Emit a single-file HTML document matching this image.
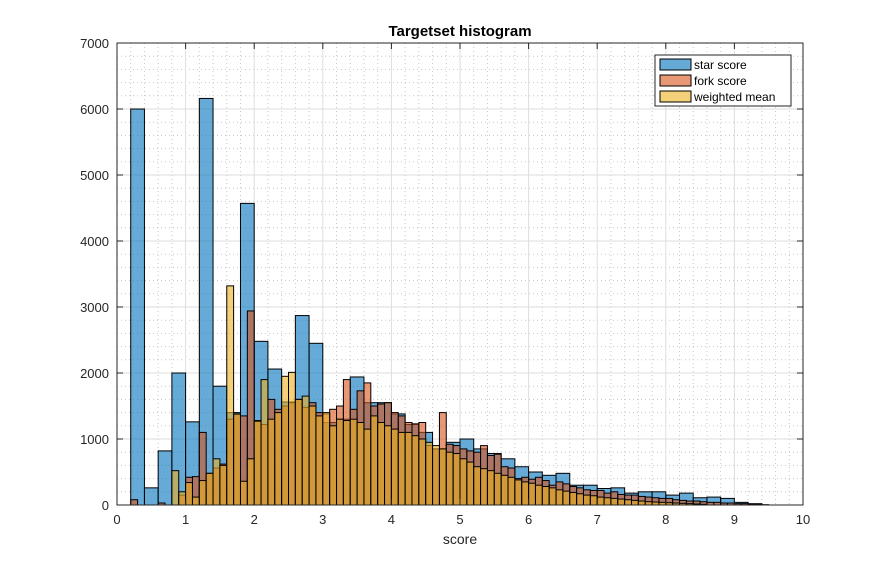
<!DOCTYPE html>
<html><head><meta charset="utf-8"><style>
body{margin:0;background:#fff;}
svg text{font-family:"Liberation Sans",sans-serif;}
</style></head><body>
<svg id="c" width="890" height="569"></svg>
<script>
const starEdgeStart=0.2, starWidth=0.2;
const starCounts=[6000,260,820,2000,1260,6160,1800,1400,4570,2480,2060,1560,2870,2450,1250,1300,1940,1550,1550,1380,1220,1100,850,950,1000,850,780,700,580,500,450,480,300,300,250,260,180,200,200,150,180,110,120,100,40,20];
const forkWidth=0.1;
const forkCounts=[0,0,80,0,0,0,30,0,0,150,420,430,1100,480,560,620,1300,1370,1350,2940,1280,1220,1600,1450,1500,1550,1600,1480,1550,1400,1380,1450,1500,1900,1450,1730,1850,1500,1530,1550,1400,1350,1250,1230,1250,900,850,1400,920,900,850,820,800,900,750,770,580,560,400,420,390,420,370,300,350,320,280,260,230,220,220,180,200,160,150,150,130,120,110,100,100,80,70,60,60,50,40,40,30,30,20,20,15,10,5];
const meanWidth=0.1;
const meanCounts=[0,0,0,0,0,0,0,0,520,200,340,120,370,480,700,600,3320,1380,360,700,1270,1900,1300,1400,1950,2010,1600,1650,1500,1350,1400,1200,1300,1280,1300,1250,1150,1350,1250,1200,1150,1100,1100,1050,1000,950,900,850,800,780,700,650,580,550,520,480,450,420,380,350,330,300,280,260,230,210,190,170,150,140,120,110,100,90,80,70,60,50,45,40,35,30,25,20,15,10];
const xTicks=[0,1,2,3,4,5,6,7,8,9,10];
const yTicks=[0,1000,2000,3000,4000,5000,6000,7000];
const legendLabels=["star score","fork score","weighted mean"];

const NS="http://www.w3.org/2000/svg";
const svg=document.getElementById('c');
const L=117,R=803,T=43,B=505;
const xs=v=>L+(v/10)*(R-L);
const ys=v=>B-(v/7000)*(B-T);
function el(t,a,p){const e=document.createElementNS(NS,t);for(const k in a)e.setAttribute(k,a[k]);(p||svg).appendChild(e);return e;}

const bg=el('rect',{x:L,y:T,width:R-L,height:B-T,fill:'#fff'});


// minor grid
const grid=el('g',{});


for(let v=0;v<=10.001;v+=0.2){if(Math.abs(v-Math.round(v))<1e-6)continue;el('line',{x1:xs(v),x2:xs(v),y1:T,y2:B,stroke:'#c8c8c8','stroke-dasharray':'1,3','stroke-width':1},grid);}
for(let v=200;v<7000;v+=200){if(v%1000===0)continue;el('line',{x1:L,x2:R,y1:ys(v),y2:ys(v),stroke:'#c8c8c8','stroke-dasharray':'1,3','stroke-width':1},grid);}
xTicks.forEach(v=>el('line',{x1:xs(v),x2:xs(v),y1:T,y2:B,stroke:'#dedede'},grid));
yTicks.forEach(v=>el('line',{x1:L,x2:R,y1:ys(v),y2:ys(v),stroke:'#dedede'},grid));

function series(counts,start,w,fill,name){
  const g=el('g',{});
  
  
  counts.forEach((c,i)=>{if(c<=0)return;
    const x0=xs(start+i*w),x1=xs(start+(i+1)*w);
    const r=el('rect',{x:x0,y:ys(c),width:x1-x0,height:B-ys(c),fill:fill,'fill-opacity':0.6,stroke:'#000','stroke-width':1},g);
    
    
  });
}
series(starCounts,starEdgeStart,starWidth,'#0072BD','star-score');
series(forkCounts,0,forkWidth,'#D95319','fork-score');
series(meanCounts,0,meanWidth,'#EDB120','weighted-mean');

const box=el('rect',{x:L,y:T,width:R-L,height:B-T,fill:'none',stroke:'#262626'});


xTicks.forEach(v=>{
  el('line',{x1:xs(v),x2:xs(v),y1:B,y2:B-6,stroke:'#262626'});
  el('line',{x1:xs(v),x2:xs(v),y1:T,y2:T+6,stroke:'#262626'});
  const t=el('text',{x:xs(v),y:B+19,'text-anchor':'middle','font-size':13,fill:'#262626'});t.textContent=v;
  
  
});
yTicks.forEach(v=>{
  el('line',{x1:L,x2:L+6,y1:ys(v),y2:ys(v),stroke:'#262626'});
  el('line',{x1:R,x2:R-6,y1:ys(v),y2:ys(v),stroke:'#262626'});
  const t=el('text',{x:L-8,y:ys(v)+5,'text-anchor':'end','font-size':13,fill:'#262626'});t.textContent=v;
  
  
});
const title=el('text',{x:460,y:36,'text-anchor':'middle','font-size':15,'font-weight':'bold',fill:'#000'});title.textContent='Targetset histogram';


const xl=el('text',{x:460,y:544,'text-anchor':'middle','font-size':14,fill:'#262626'});xl.textContent='score';



const lg=el('g',{});


el('rect',{x:655,y:55,width:136,height:51,fill:'#fff',stroke:'#262626'},lg);
const cols=['#0072BD','#D95319','#EDB120'];
legendLabels.forEach((s,i)=>{
  const y=59+i*16;
  const sw=el('rect',{x:660,y:y,width:31,height:11,fill:cols[i],'fill-opacity':0.6,stroke:'#000'},lg);
  
  
  const t=el('text',{x:694,y:y+10,'font-size':12,fill:'#000'},lg);t.textContent=s;
  
  
});
</script>
</body></html>
